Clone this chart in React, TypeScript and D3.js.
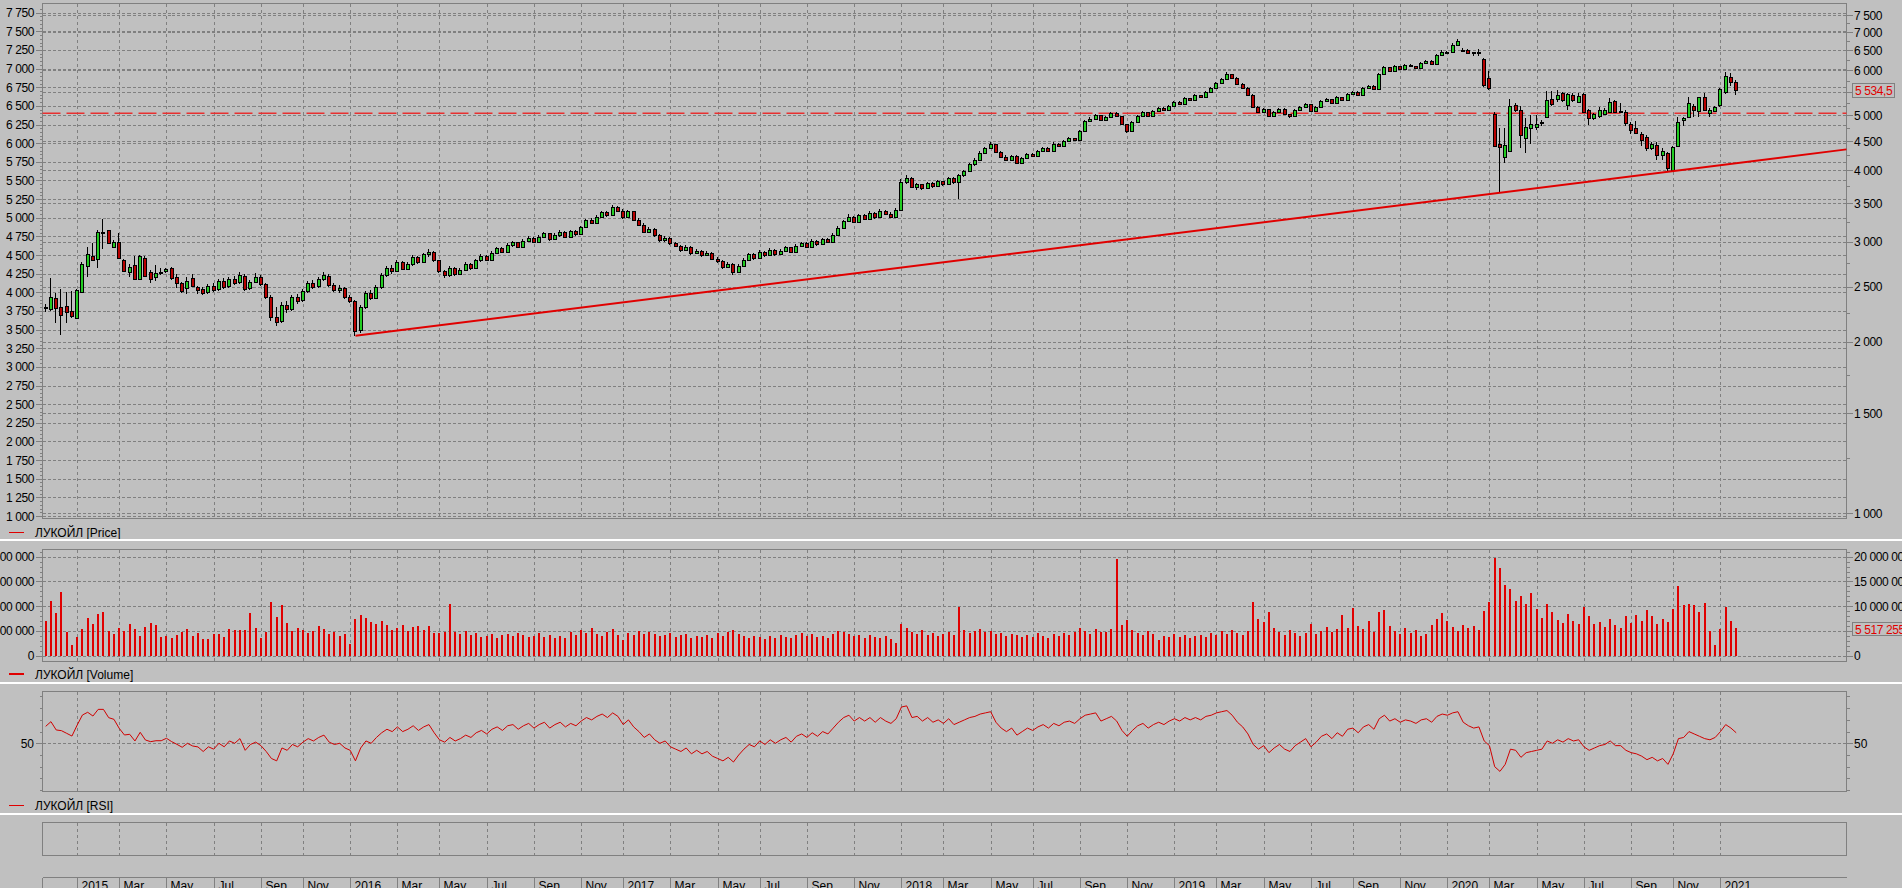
import React, { useEffect } from "react";
import * as d3 from "d3";

// ---------- DATA (weekly bars, index 0 = late Nov 2014) ----------
const OPEN: number[] = [
  2290,2285,2390,2300,2310,2265,2200,2450,2720,2825,
  2795,3120,3140,2940,2990,2790,2650,2730,2580,2810,
  2650,2600,2650,2660,2700,2605,2540,2485,2590,2500,
  2475,2445,2505,2475,2555,2505,2580,2545,2615,2485,
  2550,2600,2525,2400,2215,2175,2320,2285,2395,2365,
  2460,2540,2505,2580,2615,2520,2470,2490,2400,2360,
  2095,2300,2440,2390,2500,2620,2700,2660,2760,2690,
  2740,2820,2760,2850,2880,2780,2660,2620,2700,2630,
  2680,2740,2700,2780,2830,2790,2870,2920,2880,2960,
  2990,2940,3010,3050,3000,3060,3100,3030,3080,3120,
  3060,3130,3090,3180,3270,3240,3320,3380,3340,3450,
  3400,3310,3390,3280,3210,3120,3160,3080,3020,3050,
  2980,2950,2900,2940,2860,2890,2840,2870,2800,2770,
  2710,2740,2650,2720,2790,2850,2810,2880,2840,2900,
  2850,2890,2930,2880,2950,2980,2940,3010,2970,3030,
  3000,3080,3170,3260,3320,3250,3340,3290,3370,3310,
  3400,3360,3320,3410,3820,3880,3740,3780,3720,3800,
  3750,3830,3780,3880,3810,3920,3990,4100,4180,4300,
  4380,4450,4310,4230,4170,4240,4130,4210,4280,4240,
  4330,4380,4330,4460,4420,4510,4560,4520,4700,4880,
  4920,5000,4900,4960,5040,4980,4820,4700,4860,4990,
  5060,4980,5080,5150,5100,5200,5280,5240,5360,5320,
  5420,5380,5500,5580,5700,5800,5900,5820,5680,5580,
  5430,5180,5060,5120,4980,5060,5130,5020,4990,5100,
  5170,5230,5090,5180,5290,5340,5260,5380,5310,5460,
  5500,5420,5580,5630,5560,5920,6080,5990,6100,6040,
  6130,6100,6060,6170,6230,6160,6380,6470,6470,6640,
  6520,6510,6445,6450,6290,5810,5025,4460,4230,4330,
  5210,5107,4555,4745,4760,4860,4970,5330,5330,5470,
  5210,5430,5285,5449,5107,4940,4990,5025,5070,5300,
  5085,5070,4820,4750,4640,4580,4375,4433,4257,4290,
  4005,4420,4905,4960,5190,5095,5390,5050,5095,5210,
  5500,5845,5730,
];
const HIGH: number[] = [
  2330,2590,2440,2480,2450,2460,2480,2760,2930,2980,
  3140,3290,3150,3020,3100,2800,2745,2825,2840,2830,
  2680,2730,2700,2700,2710,2630,2545,2600,2630,2510,
  2500,2530,2540,2580,2590,2600,2610,2650,2630,2570,
  2640,2620,2540,2420,2300,2350,2360,2420,2430,2480,
  2560,2570,2600,2650,2630,2540,2520,2500,2420,2370,
  2320,2460,2470,2520,2640,2720,2730,2780,2770,2760,
  2840,2830,2870,2910,2890,2790,2680,2720,2710,2700,
  2760,2750,2800,2850,2840,2890,2940,2930,2980,3010,
  3000,3030,3070,3060,3080,3120,3110,3100,3140,3130,
  3150,3140,3200,3290,3300,3340,3400,3400,3480,3470,
  3420,3410,3400,3300,3230,3180,3170,3090,3070,3060,
  2990,2960,2960,2950,2910,2900,2890,2880,2820,2780,
  2760,2750,2740,2810,2870,2860,2900,2890,2920,2910,
  2910,2950,2940,2970,3000,2990,3030,3020,3050,3040,
  3100,3190,3280,3350,3330,3360,3350,3390,3380,3420,
  3410,3380,3430,3860,3920,3890,3800,3790,3820,3810,
  3850,3840,3900,3890,3940,4010,4120,4200,4320,4400,
  4480,4460,4320,4250,4260,4250,4230,4300,4290,4350,
  4400,4390,4480,4470,4530,4580,4570,4720,4900,4960,
  5030,5010,4980,5060,5060,4990,4830,4880,5010,5080,
  5070,5100,5170,5160,5220,5300,5290,5380,5370,5440,
  5430,5520,5600,5720,5820,5950,5920,5830,5700,5600,
  5450,5200,5140,5130,5080,5150,5140,5030,5120,5190,
  5250,5240,5200,5310,5360,5350,5400,5390,5480,5520,
  5510,5600,5650,5640,5940,6100,6090,6120,6110,6150,
  6140,6110,6190,6250,6240,6400,6500,6490,6700,6800,
  6560,6530,6470,6530,6300,5970,5070,4740,4740,5330,
  5250,5190,4950,5005,5005,4904,5520,5520,5537,5500,
  5464,5464,5464,5478,5120,5050,5160,5140,5355,5318,
  5260,5107,4870,4890,4675,4615,4490,4490,4375,4315,
  4415,4965,4965,5375,5233,5390,5464,5140,5190,5575,
  5965,5925,5767,
];
const LOW: number[] = [
  2260,2270,2160,2060,2160,2200,2190,2440,2605,2770,
  2700,2910,2980,2920,2800,2650,2605,2575,2575,2600,
  2540,2560,2625,2640,2570,2490,2440,2430,2505,2430,
  2420,2430,2450,2460,2480,2490,2520,2530,2460,2470,
  2540,2510,2380,2180,2130,2160,2250,2270,2330,2350,
  2440,2480,2490,2560,2500,2450,2440,2380,2340,2050,
  2070,2280,2370,2380,2480,2600,2630,2650,2670,2670,
  2720,2740,2750,2820,2760,2640,2590,2600,2610,2620,
  2670,2680,2690,2760,2770,2780,2850,2860,2870,2940,
  2920,2930,2990,2980,2990,3040,3010,3020,3060,3040,
  3050,3070,3080,3170,3220,3230,3300,3310,3330,3380,
  3290,3300,3260,3190,3100,3100,3060,3000,3000,2960,
  2930,2880,2890,2840,2850,2820,2830,2780,2750,2690,
  2700,2620,2640,2710,2780,2790,2800,2820,2830,2830,
  2840,2880,2860,2870,2940,2920,2930,2950,2960,2980,
  2990,3070,3160,3250,3230,3240,3270,3280,3290,3300,
  3340,3300,3310,3400,3790,3720,3700,3690,3710,3730,
  3740,3760,3770,3790,3560,3900,3980,4080,4170,4280,
  4360,4290,4210,4150,4160,4110,4120,4200,4220,4230,
  4320,4310,4320,4400,4410,4490,4500,4510,4690,4860,
  4900,4880,4890,4950,4960,4800,4650,4690,4850,4970,
  4960,4970,5060,5080,5090,5190,5220,5230,5300,5310,
  5360,5370,5490,5570,5690,5790,5800,5660,5560,5410,
  5160,5040,5050,4960,4970,5050,5000,4950,4980,5090,
  5160,5070,5080,5170,5280,5240,5250,5290,5300,5450,
  5400,5410,5570,5540,5550,5910,5970,5980,6020,6030,
  6080,6040,6050,6160,6140,6150,6370,6420,6430,6620,
  6480,6420,6350,6355,5610,5537,4400,3656,4130,4310,
  5070,4375,4290,4460,4720,4787,4940,5190,5280,5280,
  5107,5280,5250,5070,4806,4904,4940,5005,5050,5050,
  5040,4787,4640,4640,4420,4330,4344,4172,4172,3995,
  3980,4405,4787,4940,4960,4970,5095,4960,5070,5163,
  5449,5628,5430,
];
const CLOSE: number[] = [
  2300,2400,2290,2230,2255,2225,2470,2737,2850,2785,
  3120,3125,2985,2990,2810,2660,2710,2580,2830,2610,
  2580,2640,2652,2690,2590,2540,2460,2560,2505,2470,
  2440,2510,2470,2560,2500,2580,2540,2620,2480,2550,
  2600,2530,2400,2210,2170,2320,2280,2400,2360,2460,
  2540,2500,2580,2620,2520,2470,2490,2400,2360,2090,
  2300,2440,2390,2500,2620,2700,2660,2760,2690,2740,
  2820,2760,2850,2880,2780,2660,2620,2700,2630,2680,
  2740,2700,2780,2830,2790,2870,2920,2880,2960,2990,
  2940,3010,3050,3000,3060,3100,3030,3080,3120,3060,
  3130,3090,3180,3270,3240,3320,3380,3340,3450,3400,
  3310,3390,3280,3210,3120,3160,3080,3020,3050,2980,
  2950,2900,2940,2860,2890,2840,2870,2800,2770,2710,
  2740,2650,2720,2790,2850,2810,2880,2840,2900,2850,
  2890,2930,2880,2950,2980,2940,3010,2970,3030,3000,
  3080,3170,3260,3320,3250,3340,3290,3370,3310,3400,
  3360,3320,3410,3820,3880,3740,3780,3720,3800,3750,
  3830,3780,3880,3810,3920,3990,4100,4180,4300,4380,
  4450,4310,4230,4170,4240,4130,4210,4280,4240,4330,
  4380,4330,4460,4420,4510,4560,4520,4700,4880,4920,
  5000,4900,4960,5040,4980,4820,4700,4860,4990,5060,
  4980,5080,5150,5100,5200,5280,5240,5360,5320,5420,
  5380,5500,5580,5700,5800,5900,5820,5680,5580,5430,
  5180,5060,5120,4980,5060,5130,5020,4990,5100,5170,
  5230,5090,5180,5290,5340,5260,5380,5310,5460,5500,
  5420,5580,5630,5560,5920,6080,5990,6100,6040,6130,
  6100,6060,6170,6230,6160,6380,6470,6440,6644,6740,
  6500,6430,6435,6465,5650,5575,4415,4400,4430,5190,
  5107,4615,4760,4826,4826,4850,5318,5233,5437,5318,
  5449,5318,5404,5070,4940,5020,5100,5107,5280,5070,
  5080,4840,4710,4650,4530,4375,4451,4257,4326,4034,
  4405,4870,4950,5250,5107,5375,5107,5107,5175,5550,
  5861,5728,5534.5,
];
// weekly volume, millions of shares
const VOLUME_M: number[] = [
  7.07,11.1,8.7,12.9,4.85,2.16,3.8,5.4,7.7,6.4,
  8.4,8.9,5.05,4.4,5.5,5.0,6.4,5.4,4.0,5.7,
  6.7,6.3,3.8,4.0,3.6,4.2,4.85,5.4,4.0,4.5,
  3.4,3.4,4.4,4.4,3.8,5.4,5.2,5.2,5.2,8.7,
  5.6,3.6,4.85,10.9,7.8,10.2,6.6,5.05,5.6,5.2,
  4.6,5.0,6.1,5.3,4.4,4.8,3.9,4.3,2.4,7.5,
  8.2,7.6,6.9,6.4,7.0,6.2,5.1,5.6,6.3,5.0,
  5.8,6.0,5.2,6.1,4.6,4.5,4.8,10.5,4.8,4.4,
  5.0,4.2,4.6,3.8,4.0,4.4,3.6,4.1,4.3,3.9,
  4.5,4.2,3.7,3.9,4.6,3.8,4.1,3.5,4.0,3.6,
  4.8,4.2,5.2,4.6,5.5,4.3,3.9,4.8,5.3,4.2,
  3.2,4.6,4.1,5.0,4.3,4.7,4.4,3.9,4.2,4.5,
  3.8,4.1,4.4,3.6,4.0,3.7,4.2,3.5,4.6,4.0,
  4.8,5.1,4.3,3.9,3.6,4.0,3.7,3.4,3.9,3.6,
  4.2,3.8,3.5,4.1,4.6,3.9,4.3,3.7,4.0,3.6,
  4.4,5.0,4.7,4.3,3.9,4.2,3.5,4.1,3.8,3.6,
  3.9,3.4,2.6,6.5,5.6,4.8,4.3,5.1,4.2,4.6,
  3.9,4.4,4.8,4.1,9.8,5.2,4.6,4.9,5.4,4.7,
  5.0,4.3,4.6,3.9,4.4,4.1,3.7,4.2,3.8,4.5,
  4.0,3.6,4.3,3.9,4.6,4.2,4.8,5.6,5.0,4.4,
  5.3,4.7,4.8,5.4,19.5,6.3,7.2,5.1,4.5,4.2,
  4.9,4.4,3.2,4.0,3.8,4.3,3.7,4.1,3.6,3.9,
  4.2,3.8,4.5,4.1,4.9,4.4,5.2,4.6,4.2,5.0,
  10.8,7.5,6.8,8.9,5.6,4.8,4.2,5.1,4.5,3.9,
  4.6,6.4,4.3,4.9,5.8,4.7,5.3,8.2,5.6,9.6,
  6.0,5.4,7.1,4.8,8.8,9.2,5.9,5.0,4.3,5.5,
  4.6,5.1,3.9,4.4,6.2,7.4,8.6,7.0,5.8,4.9,
  6.3,5.6,6.0,5.2,9.0,10.8,19.8,17.8,14.2,13.5,
  11.0,12.0,10.5,12.6,9.5,7.6,10.5,8.8,7.2,6.6,
  8.4,7.0,6.5,9.8,8.0,6.4,6.9,5.8,7.5,6.2,
  5.6,8.0,6.7,8.2,7.0,9.2,8.1,6.5,7.4,6.8,
  9.5,14.0,10.2,10.4,10.2,8.9,10.7,5.05,2.2,5.4,
  9.9,7.07,5.517255,
];
const RSI: number[] = [
  64.5,68.5,61.4,60.8,58.5,56.2,65.6,74.2,76.5,73.3,
  79,79,71.9,70.5,62.8,57.1,57.7,52,59.4,52.8,
  51.4,52.2,52.2,54.3,51.4,49.1,46.6,50,47.7,46.9,
  43,47,45,50,47,52,50,54,44,49,
  51,48,43,37,35,46,44,49,47,51,
  54,52,55,57,51,49,50,46,44,35,
  46,52,50,55,59,62,60,64,60,62,
  65,61,64,66,59,53,51,55,52,54,
  57,55,59,61,58,62,64,61,65,66,
  62,65,67,63,66,68,63,66,68,64,
  67,65,69,72,70,73,75,72,76,73,
  66,70,64,60,55,58,53,50,52,47,
  45,43,46,41,44,41,43,39,37,35,
  38,34,40,45,49,47,52,49,53,50,
  53,55,51,56,58,55,59,56,60,58,
  63,68,72,74,69,72,69,72,68,72,
  69,67,71,81,82,72,73,69,72,68,
  70,67,71,66,68,70,72,73,75,76,
  77,68,63,60,63,57,60,63,61,64,
  66,63,67,65,68,69,67,71,74,75,
  76,69,71,73,69,61,56,61,65,67,
  63,66,68,66,69,71,69,72,70,72,
  70,73,74,76,77,78,74,68,64,58,
  49,45,48,42,46,49,45,43,48,51,
  54,47,51,56,58,54,59,56,62,63,
  59,64,66,62,71,74,69,71,68,70,
  69,67,70,71,68,73,75,74,76,77,
  68,65,63,64,52,48,30,26,32,45,
  44,38,42,43,44,45,52,50,53,51,
  54,52,53,47,44,46,48,49,52,48,
  48,44,42,41,39,36,38,35,37,32,
  41,54,55,60,58,56,54,53,55,60,
  66,63,59,
];

// time axis: bar index where each labelled month starts
const TICK_INDEX: number[] = [6,14,23,32,41,49,58,67,75,84,93,102,110,119,128,136,145,154,163,171,180,188,197,206,215,223,232,241,249,258,267,275,284,293,302,310,319];
const TICK_LABELS: string[] = ["2015","Mar","May","Jul","Sep","Nov","2016","Mar","May","Jul","Sep","Nov","2017","Mar","May","Jul","Sep","Nov","2018","Mar","May","Jul","Sep","Nov","2019","Mar","May","Jul","Sep","Nov","2020","Mar","May","Jul","Sep","Nov","2021"];

const LEFT_PRICE_TICKS: number[] = d3.range(1000, 7751, 250);
const RIGHT_PRICE_TICKS: number[] = [1000,1500,2000,2500,3000,3500,4000,4500,5000,5500,6000,6500,7000,7500];
const RIGHT_PRICE_MINOR: number[] = [1250,1750,2250,2750,3250,3750,4250,4750,5250,5750,6250,6750,7250];
const VOLUME_TICKS: number[] = [0,5e6,10e6,15e6,20e6];
const RSI_TICKS: number[] = [10,20,30,40,50,60,70,80,90];
const LEVEL_LINE = 5040;
const TREND = { fromIndex: 59, fromValue: 2050, throughIndex: 277, throughValue: 3656 };
const LAST_PRICE_LABEL = "5 534,5";
const LAST_VOLUME_LABEL = "5 517 255";
const NAME = "ЛУКОЙЛ";

const loc = d3.formatLocale({ decimal: ",", thousands: " ", grouping: [3], currency: ["", ""] });
const fInt = loc.format(",d");

export default function App() {
  useEffect(() => {
    document.body.style.margin = "0";
    document.body.style.background = "#c0c0c0";
  }, []);

  const W = 1902, H = 888;
  const L = 42.5, R = 1846.5;
  const P = { top: 3.5, bottom: 518.5 };
  const V = { top: 549.5, bottom: 661.5 };
  const RS = { top: 691.5, bottom: 791.5 };
  const E = { top: 822.5, bottom: 855.5 };
  const AXIS_Y = 877.5;

  const x = d3.scaleLinear().domain([0, CLOSE.length - 1]).range([45.7, 1736.2]);
  const yLog = d3.scaleLog().domain([1000, 7500]).range([513.3, 15]);
  const yLin = d3.scaleLinear().domain([1000, 7750]).range([516, 12.7]);
  const yVol = d3.scaleLinear().domain([0, 20e6]).range([655.7, 556.7]);
  const yRsi = d3.scaleLinear().domain([0, 100]).range([801.8, 684.8]);

  const grid = "#808080";
  const font = "'Liberation Sans', Arial, sans-serif";
  const red = "#e00000";

  const vGrid = (top: number, bottom: number, key: string) =>
    TICK_INDEX.map((t, k) => {
      const gx = Math.round(x(t)) + 0.5;
      return <line key={key + k} x1={gx} x2={gx} y1={top} y2={bottom} stroke={grid} strokeDasharray="3 3" shapeRendering="crispEdges" />;
    });

  const hLine = (yy: number, key: string) => {
    const gy = Math.round(yy) + 0.5;
    return <line key={key} x1={L} x2={R} y1={gy} y2={gy} stroke={grid} strokeDasharray="3 2" shapeRendering="crispEdges" />;
  };

  const tick = (x1: number, x2: number, yy: number, key: string) => {
    const gy = Math.round(yy) + 0.5;
    return <line key={key} x1={x1} x2={x2} y1={gy} y2={gy} stroke={grid} shapeRendering="crispEdges" />;
  };

  // trend line in pixel space of the log scale
  const tx1 = x(TREND.fromIndex), ty1 = yLog(TREND.fromValue);
  const tx2 = x(TREND.throughIndex), ty2 = yLog(TREND.throughValue);
  const slope = (ty2 - ty1) / (tx2 - tx1);
  const tyEnd = ty1 + slope * (R - tx1);

  const rsiLine = d3.line<number>().x((_, i) => x(i)).y((d) => yRsi(d))(RSI) || "";

  const volMinor = d3.range(0, 21e6 + 1, 1e6);

  return (
    <svg width={W} height={H} style={{ position: "absolute", left: 0, top: 0, display: "block" }} fontFamily={font} fontSize={12}>
      <rect x={0} y={0} width={W} height={H} fill="#c0c0c0" />

      {/* ---------- PRICE PANEL ---------- */}
      {LEFT_PRICE_TICKS.map((v) => hLine(yLin(v), "pl" + v))}
      {RIGHT_PRICE_TICKS.map((v) => hLine(yLog(v), "pr" + v))}
      {vGrid(P.top, P.bottom, "pv")}
      <rect x={L} y={P.top} width={R - L} height={P.bottom - P.top} fill="none" stroke={grid} shapeRendering="crispEdges" />

      {/* left linear axis */}
      {d3.range(1000, 7801, 50).map((v) => tick(v % 250 === 0 ? 35.5 : 39.5, L, yLin(v), "plt" + v))}
      {LEFT_PRICE_TICKS.map((v) => (
        <text key={"plx" + v} x={34} y={yLin(v) + 4.5} textAnchor="end" fill="#000" letterSpacing={-0.4}>{fInt(v)}</text>
      ))}
      {/* right log axis */}
      {RIGHT_PRICE_TICKS.map((v) => tick(R, R + 6, yLog(v), "prt" + v))}
      {RIGHT_PRICE_MINOR.map((v) => tick(R, R + 3.5, yLog(v), "prm" + v))}
      {RIGHT_PRICE_TICKS.filter((v) => v !== 5500).map((v) => (
        <text key={"prx" + v} x={1854} y={yLog(v) + 4.5} fill="#000" letterSpacing={-0.4}>{fInt(v)}</text>
      ))}

      {/* level line */}
      <line x1={L} x2={R} y1={yLog(LEVEL_LINE)} y2={yLog(LEVEL_LINE)} stroke="#e83030" strokeWidth={1.6} strokeDasharray="18 6" />

      {/* candles */}
      {CLOSE.map((c, i) => {
        const o = OPEN[i], h = HIGH[i], l = LOW[i];
        const cx = Math.round(x(i));
        const yTop = yLog(Math.max(o, c));
        const yBot = yLog(Math.min(o, c));
        const up = c >= o;
        const bh = Math.max(1, Math.round(yBot) - Math.round(yTop));
        return (
          <g key={"c" + i} shapeRendering="crispEdges">
            <line x1={cx - 0.5} x2={cx - 0.5} y1={Math.round(yLog(h))} y2={Math.round(yLog(l))} stroke="#000" />
            <rect x={cx - 1.5} y={Math.round(yTop) + 0.5} width={3} height={bh} fill={up ? "#22cc22" : "#b80000"} stroke="#000" />
          </g>
        );
      })}

      {/* trend line */}
      <line x1={tx1} y1={ty1} x2={R} y2={tyEnd} stroke={red} strokeWidth={2} />

      {/* last price box */}
      <rect x={1852.5} y={83.5} width={42} height={14} fill="#c0c0c0" stroke={grid} shapeRendering="crispEdges" />
      <text x={1855} y={95} fill={red} letterSpacing={-0.4}>{LAST_PRICE_LABEL}</text>

      {/* legend */}
      <line x1={9} x2={24} y1={532.5} y2={532.5} stroke={red} />
      <text x={35} y={537} fill="#000">{NAME} [Price]</text>

      <rect x={0} y={539} width={W} height={2} fill="#ffffff" />

      {/* ---------- VOLUME PANEL ---------- */}
      {VOLUME_TICKS.map((v) => hLine(yVol(v), "vh" + v))}
      {vGrid(V.top, V.bottom, "vv")}
      <rect x={L} y={V.top} width={R - L} height={V.bottom - V.top} fill="none" stroke={grid} shapeRendering="crispEdges" />
      {volMinor.map((v) => tick(v % 5e6 === 0 ? 35.5 : 39.5, L, yVol(v), "vlt" + v))}
      {volMinor.map((v) => tick(R, v % 5e6 === 0 ? R + 6 : R + 3.5, yVol(v), "vrt" + v))}
      {VOLUME_TICKS.map((v) => (
        <text key={"vlx" + v} x={34} y={yVol(v) + 4.5} textAnchor="end" fill="#000" letterSpacing={-0.4}>{fInt(v)}</text>
      ))}
      {VOLUME_TICKS.map((v) => (
        <text key={"vrx" + v} x={1854} y={yVol(v) + 4.5} fill="#000" letterSpacing={-0.4}>{fInt(v)}</text>
      ))}
      {VOLUME_M.map((m, i) => {
        const cx = Math.round(x(i));
        const yy = yVol(m * 1e6);
        return <rect key={"v" + i} x={cx - 1} y={yy} width={2} height={yVol(0) - yy} fill={red} shapeRendering="crispEdges" />;
      })}
      <rect x={1852.5} y={622.5} width={60} height={13} fill="#c0c0c0" stroke={grid} shapeRendering="crispEdges" />
      <text x={1855} y={633.5} fill={red} letterSpacing={-0.4}>{LAST_VOLUME_LABEL}</text>
      <line x1={9} x2={24} y1={674} y2={674} stroke={red} strokeWidth={2} />
      <text x={35} y={678.5} fill="#000">{NAME} [Volume]</text>

      <rect x={0} y={682} width={W} height={2} fill="#ffffff" />

      {/* ---------- RSI PANEL ---------- */}
      {hLine(yRsi(50), "rh50")}
      {vGrid(RS.top, RS.bottom, "rv")}
      <rect x={L} y={RS.top} width={R - L} height={RS.bottom - RS.top} fill="none" stroke={grid} shapeRendering="crispEdges" />
      {RSI_TICKS.map((v) => tick(v === 50 ? 35.5 : 39.5, L, yRsi(v), "rlt" + v))}
      {RSI_TICKS.map((v) => tick(R, v === 50 ? R + 6 : R + 3.5, yRsi(v), "rrt" + v))}
      <text x={34} y={yRsi(50) + 4.5} textAnchor="end" fill="#000">50</text>
      <text x={1854} y={yRsi(50) + 4.5} fill="#000">50</text>
      <path d={rsiLine} fill="none" stroke="#d00000" strokeWidth={1} />
      <line x1={9} x2={24} y1={805.5} y2={805.5} stroke={red} />
      <text x={35} y={810} fill="#000">{NAME} [RSI]</text>

      <rect x={0} y={813} width={W} height={2} fill="#ffffff" />

      {/* ---------- EMPTY PANEL ---------- */}
      {vGrid(E.top, E.bottom, "ev")}
      <rect x={L} y={E.top} width={R - L} height={E.bottom - E.top} fill="none" stroke={grid} shapeRendering="crispEdges" />

      {/* ---------- TIME AXIS ---------- */}
      <line x1={L} x2={R} y1={AXIS_Y} y2={AXIS_Y} stroke={grid} shapeRendering="crispEdges" />
      <line x1={L} x2={L} y1={AXIS_Y} y2={H} stroke={grid} shapeRendering="crispEdges" />
      {TICK_INDEX.map((t, k) => {
        const gx = Math.round(x(t)) + 0.5;
        return (
          <g key={"ta" + k}>
            <line x1={gx} x2={gx} y1={AXIS_Y} y2={H} stroke={grid} shapeRendering="crispEdges" />
            <text x={gx + 4} y={889.5} fill="#000">{TICK_LABELS[k]}</text>
          </g>
        );
      })}
    </svg>
  );
}
